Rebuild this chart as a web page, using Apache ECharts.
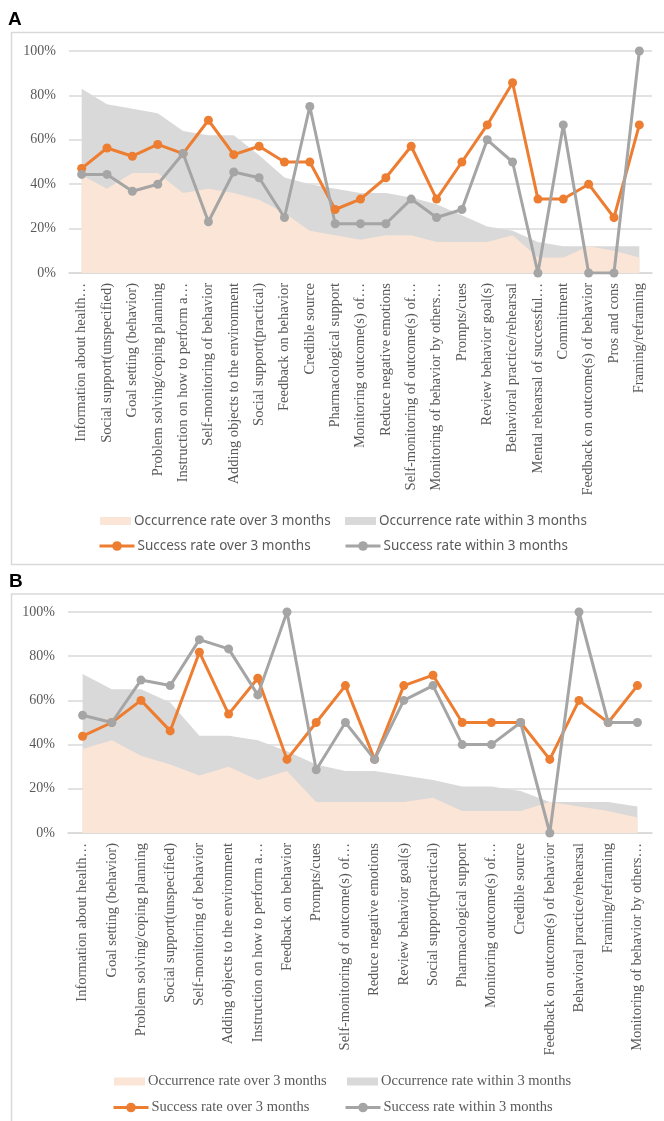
<!DOCTYPE html>
<html>
<head>
<meta charset="utf-8">
<script src="https://cdn.jsdelivr.net/npm/echarts@6/dist/echarts.min.js"></script>
<style>
  html, body { margin: 0; padding: 0; background: #fff; }
  #chart { width: 664px; height: 1121px; }
</style>
</head>
<body>
<div id="chart"></div>
<script>
// Panel A: behaviour change techniques, ordered by occurrence
const catsA = [
  'Information about health…', 'Social support(unspecified)', 'Goal setting (behavior)',
  'Problem solving/coping planning', 'Instruction on how to perform a…', 'Self-monitoring of behavior',
  'Adding objects to the environment', 'Social support(practical)', 'Feedback on behavior',
  'Credible source', 'Pharmacological support', 'Monitoring outcome(s) of…',
  'Reduce negative emotions', 'Self-monitoring of outcome(s) of…', 'Monitoring of behavior by others…',
  'Prompts/cues', 'Review behavior goal(s)', 'Behavioral practice/rehearsal',
  'Mental rehearsal of successful…', 'Commitment', 'Feedback on outcome(s) of behavior',
  'Pros and cons', 'Framing/reframing'
];
const occOverA   = [44, 38, 45, 45, 36, 38, 36, 33, 27, 19, 17, 15, 17, 17, 14, 14, 14, 17, 7, 7, 12, 10, 7];
const occWithinA = [83, 76, 74, 72, 64, 62, 62, 53, 43, 40, 38, 36, 36, 34, 31, 26, 21, 19, 14, 12, 12, 12, 12];
const succOverA   = [47.1, 56.3, 52.6, 57.9, 53.8, 68.8, 53.3, 57.1, 50, 50, 28.6, 33.3, 42.9, 57.1, 33.3, 50, 66.7, 85.7, 33.3, 33.3, 40, 25, 66.7];
const succWithinA = [44.4, 44.4, 36.8, 40, 53.8, 23.1, 45.5, 42.9, 25, 75, 22.2, 22.2, 22.2, 33.3, 25, 28.6, 60, 50, 0, 66.7, 0, 0, 100];

// Panel B
const catsB = [
  'Information about health…', 'Goal setting (behavior)', 'Problem solving/coping planning',
  'Social support(unspecified)', 'Self-monitoring of behavior', 'Adding objects to the environment',
  'Instruction on how to perform a…', 'Feedback on behavior', 'Prompts/cues',
  'Self-monitoring of outcome(s) of…', 'Reduce negative emotions', 'Review behavior goal(s)',
  'Social support(practical)', 'Pharmacological support', 'Monitoring outcome(s) of…',
  'Credible source', 'Feedback on outcome(s) of behavior', 'Behavioral practice/rehearsal',
  'Framing/reframing', 'Monitoring of behavior by others…'
];
const occOverB   = [38, 42, 35, 31, 26, 30, 24, 28, 14, 14, 14, 14, 16, 10, 10, 10, 14, 12, 10, 7];
const occWithinB = [72, 65, 65, 59, 44, 44, 42, 37, 31, 28, 28, 26, 24, 21, 21, 19, 14, 14, 14, 12];
const succOverB   = [43.8, 50, 60, 46.2, 81.8, 53.8, 70, 33.3, 50, 66.7, 33.3, 66.7, 71.4, 50, 50, 50, 33.3, 60, 50, 66.7];
const succWithinB = [53.3, 50, 69.2, 66.7, 87.5, 83.3, 62.5, 100, 28.6, 50, 33.3, 60, 66.7, 40, 40, 50, 0, 100, 50, 50];

const seriesNames = [
  'Occurrence rate over 3 months', 'Occurrence rate within 3 months',
  'Success rate over 3 months', 'Success rate within 3 months'
];

const PEACH = '#FBE5D6', LIGHTGRAY = '#D9D9D9', ORANGE = '#ED7D31', GRAY = '#A5A5A5';
const TEXT = '#595959';
const SERIF = '"Liberation Serif", "Times New Roman", serif';
const SANS = '"Noto Sans", "Liberation Sans", sans-serif';

function xAxisFor(gridIndex, cats) {
  return {
    type: 'category', gridIndex, data: cats, boundaryGap: true,
    axisLine: { show: true, lineStyle: { color: LIGHTGRAY, width: 1.5 } },
    axisTick: { show: false },
    axisLabel: { interval: 0, rotate: 90, margin: 10, color: TEXT, fontFamily: SERIF, fontSize: 14.5 }
  };
}
function yAxisFor(gridIndex) {
  return {
    type: 'value', gridIndex, min: 0, max: 100, interval: 20,
    axisLine: { show: false }, axisTick: { show: false },
    axisLabel: { formatter: '{value}%', color: TEXT, fontFamily: SERIF, fontSize: 14, margin: 13 },
    splitLine: { lineStyle: { color: LIGHTGRAY, width: 1.5 } }
  };
}
function seriesFor(idx, occOver, occWithin, succOver, succWithin) {
  const area = (name, data, color) => ({
    name, type: 'line', xAxisIndex: idx, yAxisIndex: idx, data,
    symbol: 'none', lineStyle: { width: 0 }, itemStyle: { color },
    areaStyle: { color, opacity: 1 }, silent: true
  });
  const line = (name, data, color) => ({
    name, type: 'line', xAxisIndex: idx, yAxisIndex: idx, data,
    symbol: 'circle', symbolSize: 9, itemStyle: { color },
    lineStyle: { color, width: 3 }
  });
  return [
    area(seriesNames[1], occWithin, LIGHTGRAY),
    area(seriesNames[0], occOver, PEACH),
    line(seriesNames[2], succOver, ORANGE),
    line(seriesNames[3], succWithin, GRAY)
  ];
}
function legendItem(name, left, top, font, fontSize, isArea, color) {
  const item = isArea
    ? { name, icon: 'rect', itemStyle: { color } }
    : { name, lineStyle: { width: 3 } };
  return {
    data: [item],
    left, top, orient: 'horizontal', padding: 0, itemGap: 0,
    itemWidth: isArea ? 31 : 35, itemHeight: isArea ? 8 : 12,
    textStyle: { fontFamily: font, fontSize, color: TEXT, padding: [0, 0, 0, -2] },
    selectedMode: false
  };
}

const option = {
  animation: false,
  backgroundColor: '#fff',
  grid: [
    { left: 69, top: 51, width: 583, height: 222 },
    { left: 68, top: 612, width: 584, height: 221 }
  ],
  xAxis: [xAxisFor(0, catsA), xAxisFor(1, catsB)],
  yAxis: [yAxisFor(0), yAxisFor(1)],
  legend: [
    legendItem(seriesNames[0], 100, 514, SANS, 13.5, true, PEACH),
    legendItem(seriesNames[1], 345, 514, SANS, 13.5, true, LIGHTGRAY),
    legendItem(seriesNames[2], 98, 539, SANS, 13.5, false),
    legendItem(seriesNames[3], 344, 539, SANS, 13.5, false),
    legendItem(seriesNames[0], 114, 1074, SERIF, 14.5, true, PEACH),
    legendItem(seriesNames[1], 347, 1074, SERIF, 14.5, true, LIGHTGRAY),
    legendItem(seriesNames[2], 112, 1100, SERIF, 14.5, false),
    legendItem(seriesNames[3], 344, 1100, SERIF, 14.5, false)
  ],
  graphic: [
    { type: 'rect', shape: { x: 11.5, y: 32.5, width: 660, height: 532 },
      style: { fill: 'none', stroke: LIGHTGRAY, lineWidth: 1.5 }, silent: true },
    { type: 'rect', shape: { x: 11.5, y: 594, width: 660, height: 540 },
      style: { fill: 'none', stroke: LIGHTGRAY, lineWidth: 1.5 }, silent: true },
    { type: 'text', left: 8, top: 10,
      style: { text: 'A', font: 'bold 19px "Liberation Sans", Arial, sans-serif', fill: '#000' } },
    { type: 'text', left: 9, top: 572,
      style: { text: 'B', font: 'bold 19px "Liberation Sans", Arial, sans-serif', fill: '#000' } }
  ],
  series: [
    ...seriesFor(0, occOverA, occWithinA, succOverA, succWithinA),
    ...seriesFor(1, occOverB, occWithinB, succOverB, succWithinB)
  ]
};

const chart = echarts.init(document.getElementById('chart'), null, { renderer: 'canvas' });
chart.setOption(option);
</script>
</body>
</html>
